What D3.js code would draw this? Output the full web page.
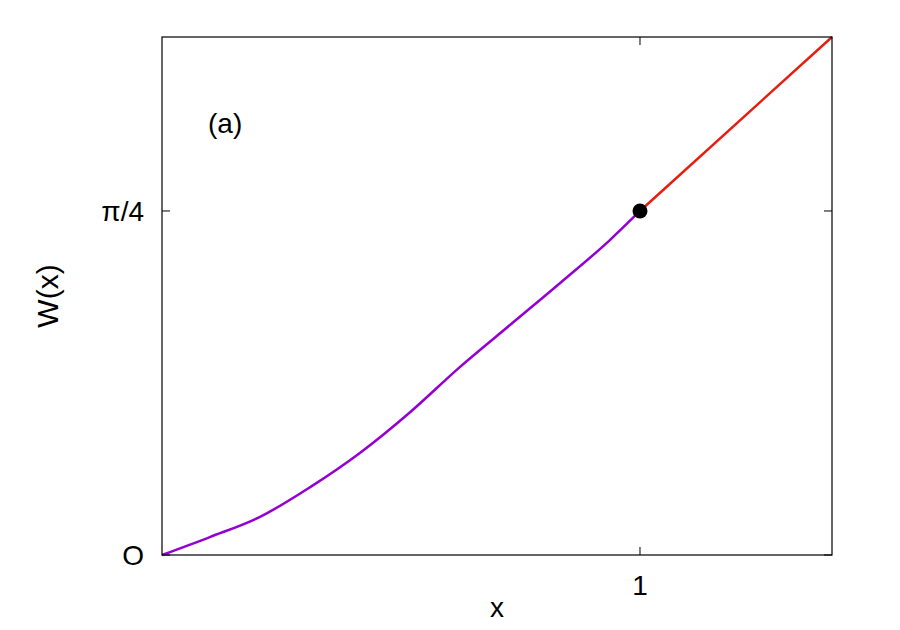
<!DOCTYPE html><html><head><script src="https://cdn.jsdelivr.net/npm/d3@7"></script>
<style>body{margin:0;background:#fff}</style></head><body><svg id="c" width="900" height="630"></svg>
<script>
const curveX=[0,0.1,0.205,0.31,0.414,0.519,0.623,0.728,0.833,0.937,1];
const curveY=[0,0.041,0.087,0.155,0.233,0.326,0.429,0.525,0.621,0.719,Math.PI/4];
const lineX=[1,1.4017];
const lineY=[Math.PI/4,Math.PI/4+0.3972];
const xTicks=[1], xLabels=["1"];
const yTicks=[0,Math.PI/4], yLabels=["O","π/4"];
const svg=d3.select("#c");
const L=162,R=832,T=37,B=555;
const x=d3.scaleLinear().domain([0,1.4017]).range([L,R]);
const y=d3.scaleLinear().domain([0,1.1826]).range([B,T]);
const f="Liberation Sans, Arial, sans-serif";
const g=svg.append("g");
xTicks.forEach((t,i)=>{g.append("line").attr("x1",x(t)).attr("x2",x(t)).attr("y1",B).attr("y2",B-8).attr("stroke","#000");
 g.append("line").attr("x1",x(t)).attr("x2",x(t)).attr("y1",T).attr("y2",T+8).attr("stroke","#000");
 g.append("text").attr("x",x(t)).attr("y",B+40).attr("text-anchor","middle").attr("font-family",f).attr("font-size",28).text(xLabels[i]);});
yTicks.forEach((t,i)=>{g.append("line").attr("x1",L).attr("x2",L+8).attr("y1",y(t)).attr("y2",y(t)).attr("stroke","#000");
 g.append("line").attr("x1",R).attr("x2",R-8).attr("y1",y(t)).attr("y2",y(t)).attr("stroke","#000");
 g.append("text").attr("x",L-18).attr("y",y(t)+10).attr("text-anchor","end").attr("font-family",f).attr("font-size",28).text(yLabels[i]);});
svg.append("text").attr("x",497).attr("y",617).attr("text-anchor","middle").attr("font-family",f).attr("font-size",28).text("x");
svg.append("text").attr("transform","translate(58,296) rotate(-90)").attr("text-anchor","middle").attr("font-family",f).attr("font-size",30).text("W(x)");
svg.append("text").attr("x",208).attr("y",133).attr("font-family",f).attr("font-size",28).text("(a)");
const ln=d3.line().x(d=>x(d[0])).y(d=>y(d[1])).curve(d3.curveMonotoneX);
svg.append("path").attr("d",ln(curveX.map((v,i)=>[v,curveY[i]]))).attr("fill","none").attr("stroke","#9400d3").attr("stroke-width",2.5);
svg.append("path").attr("d",ln(lineX.map((v,i)=>[v,lineY[i]]))).attr("fill","none").attr("stroke","#e51e10").attr("stroke-width",2.5);
svg.append("rect").attr("x",L).attr("y",T).attr("width",R-L).attr("height",B-T).attr("fill","none").attr("stroke","#000").attr("stroke-width",1.2);
svg.append("circle").attr("cx",x(1)).attr("cy",y(Math.PI/4)).attr("r",7.5).attr("fill","#000");
</script></body></html>
